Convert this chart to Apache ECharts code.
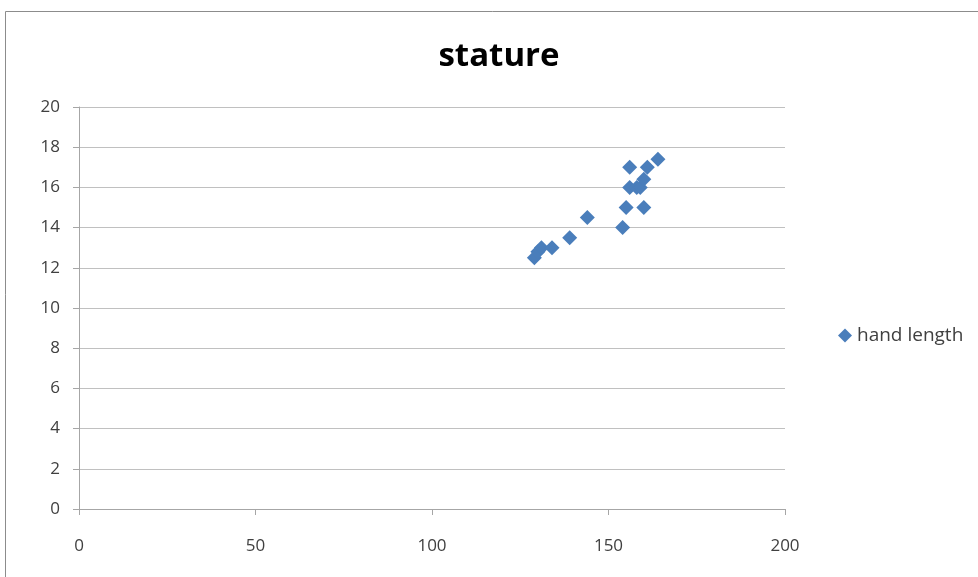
<!DOCTYPE html>
<html><head><meta charset="utf-8">
<script src="https://cdn.jsdelivr.net/npm/echarts@6/dist/echarts.min.js"></script>
<style>html,body{margin:0;padding:0;background:#fff}#c{width:978px;height:577px}</style>
</head><body><div id="c"></div>
<script>
const statureX = [129, 130, 131, 134, 139, 144, 154, 155, 160, 156, 156, 158, 159, 160, 161, 164];
const handLength = [12.5, 12.8, 13, 13, 13.5, 14.5, 14, 15, 15, 17, 16, 16, 16, 16.4, 17, 17.4];
const seriesName = 'hand length';
const chartTitle = 'stature';
const data = statureX.map((x, i) => [x, handLength[i]]);
const chart = echarts.init(document.getElementById('c'));
const labelFont = {color: '#404040', fontSize: 17, fontFamily: 'Open Sans'};
chart.setOption({
  animation: false,
  graphic: [
    {type: 'rect', shape: {x: 5.5, y: 11.5, width: 1000, height: 600}, style: {fill: 'none', stroke: '#8c8c8c', lineWidth: 1}, z: -1},
    {type: 'text', x: 499, y: 57, style: {text: chartTitle, textAlign: 'center', textVerticalAlign: 'middle', fontSize: 33, fontWeight: 'bold', fontFamily: 'Open Sans', fill: '#000'}}
  ],
  legend: {left: 833, top: 321, itemWidth: 14, itemHeight: 14, itemGap: 6, icon: 'diamond', textStyle: {fontSize: 19, color: '#404040', fontFamily: 'Open Sans'}, data: [seriesName]},
  grid: {left: 79, right: 193, top: 107, bottom: 68},
  xAxis: {type: 'value', min: 0, max: 200, interval: 50,
    axisLine: {show: true, onZero: false, lineStyle: {color: '#a6a6a6'}},
    axisTick: {show: true, length: 6, lineStyle: {color: '#a6a6a6'}},
    splitLine: {show: false},
    axisLabel: Object.assign({margin: 29}, labelFont)},
  yAxis: {type: 'value', min: 0, max: 20, interval: 2,
    axisLine: {show: true, lineStyle: {color: '#a6a6a6'}},
    axisTick: {show: true, length: 6, lineStyle: {color: '#a6a6a6'}},
    splitLine: {show: true, lineStyle: {color: '#c0c0c0'}},
    axisLabel: Object.assign({margin: 19}, labelFont)},
  series: [{name: seriesName, type: 'scatter', symbol: 'diamond', symbolSize: 15, data: data, itemStyle: {color: '#4a7ebb', opacity: 1}}]
});
</script></body></html>
